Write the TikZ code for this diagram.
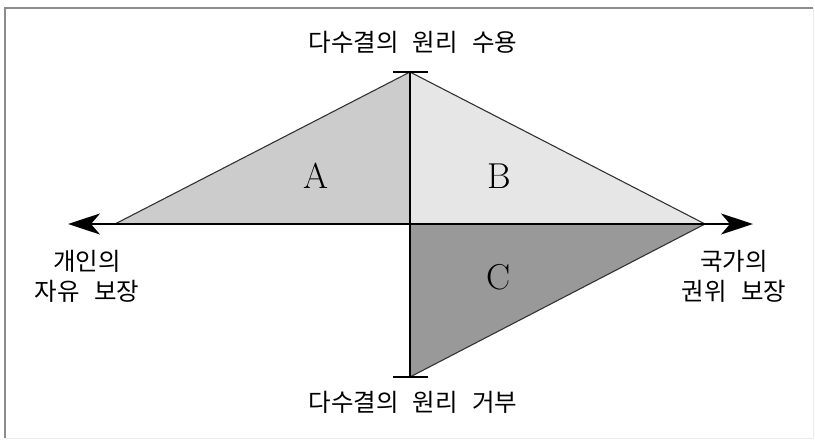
\documentclass[tikz,border=0pt]{standalone}
\usepackage{fontspec}
\newfontfamily\kr[WordSpace=2.6]{Noto Sans CJK KR}
\usetikzlibrary{arrows.meta}
\definecolor{fillA}{HTML}{CCCCCC}
\definecolor{fillB}{HTML}{E6E6E6}
\definecolor{fillC}{HTML}{999999}
\definecolor{edge}{HTML}{333333}
\begin{document}
\begin{tikzpicture}[x=1pt,y=-1pt,
  tri/.style={draw=edge,line width=1.1pt,line join=miter},
  axis/.style={draw=black,line width=2pt},
  tick/.style={draw=black,line width=2pt},
  lbl/.style={font=\kr\fontsize{24.5}{30}\selectfont,align=center,inner sep=0pt},
  letter/.style={font=\fontsize{36}{36}\selectfont,inner sep=0pt},
  tip/.style={-{Stealth[length=32pt,width=21pt,inset=9pt]}}]
\useasboundingbox (0,0) rectangle (815,440);
\draw[draw=gray!90,line width=2pt] (5,438) -- (5,8) -- (813,8);
\draw[draw=black!8,line width=1pt] (813,8) -- (813,438.5) -- (5,438.5);
% key points
\coordinate (O) at (410,224);
\coordinate (T) at (410,72);
\coordinate (Bt) at (410,377);
\coordinate (L) at (115,224);
\coordinate (R) at (705,224);
\coordinate (LA) at (68,224);
\coordinate (RA) at (753,224);
\coordinate (T1) at (393,72);
\coordinate (T2) at (428,72);
\coordinate (B1) at (393,377);
\coordinate (B2) at (428,377);
% triangles
\filldraw[tri,fill=fillA] (L) -- (T) -- (O) -- cycle;
\filldraw[tri,fill=fillB] (T) -- (R) -- (O) -- cycle;
\filldraw[tri,fill=fillC] (O) -- (R) -- (Bt) -- cycle;
% axes
\draw[axis,tip] (O) -- (LA);
\draw[axis,tip] (O) -- (RA);
\draw[axis] (T) -- (Bt);
\draw[tick] (T1) -- (T2);
\draw[tick] (B1) -- (B2);
% labels
\node[lbl] (top) at (413,42) {다수결의 원리 수용};
\node[lbl] (bot) at (413,402) {다수결의 원리 거부};
\node[lbl] (left) at (87,276) {개인의\\자유 보장};
\node[lbl] (right) at (734,276) {국가의\\권위 보장};
\node[letter] (a) at (316,176) {A};
\node[letter] (b) at (499,176) {B};
\node[letter] (c) at (499,277) {C};
\end{tikzpicture}
\end{document}
